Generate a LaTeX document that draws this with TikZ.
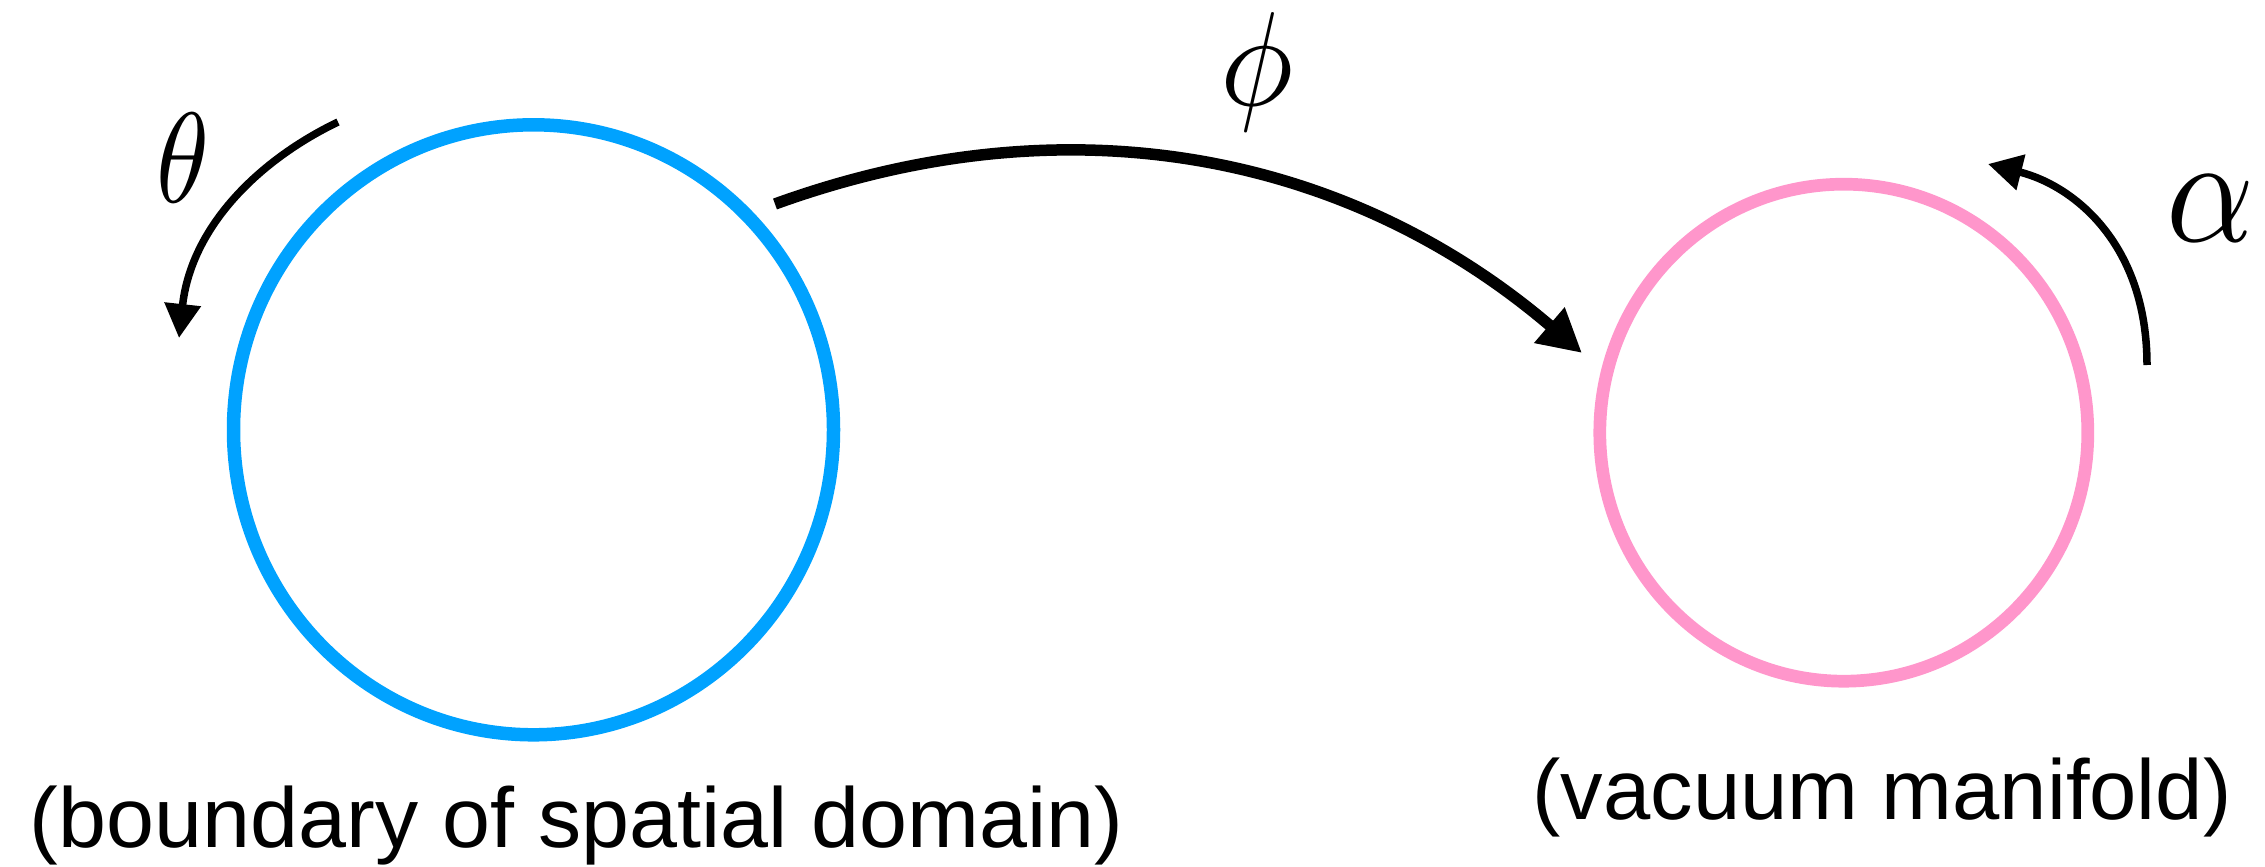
\documentclass[tikz,border=0pt]{standalone}
\usepackage{fontspec}
\usepackage{graphicx}
\setmainfont{Liberation Sans}
\usetikzlibrary{arrows.meta,shapes.geometric}
\definecolor{domblue}{RGB}{0,162,255}
\definecolor{vacpink}{RGB}{255,150,203}
\begin{document}
\begin{tikzpicture}[x=1pt,y=-1pt,
  ring/.style={draw, ellipse, inner sep=0pt, outer sep=0pt},
  smallarrow/.style={line width=7.5pt, -{Triangle[length=34pt,width=35pt]}},
  bigarrow/.style={line width=11.5pt, -{Triangle[length=43pt,width=44pt]}},
  sym/.style={inner sep=0pt, outer sep=0pt, anchor=center},
  caption/.style={inner sep=0pt, anchor=base, font=\fontsize{85}{100}\selectfont}]
\useasboundingbox (0,0) rectangle (2265,867);
% circles
\node[ring, domblue, line width=13.5pt, minimum width=600pt, minimum height=610pt] (dom) at (533.5,429.8) {};
\node[ring, vacpink, line width=12.7pt, minimum width=488pt, minimum height=497pt] (vac) at (1843.8,432.7) {};
% connector end points
\coordinate (thS) at (338,122);
\coordinate (thE) at (179,338);
\coordinate (phiS) at (775,204);
\coordinate (phiE) at (1582,353);
\coordinate (alS) at (2147,365);
\coordinate (alE) at (1988,164);
% arrows
\draw[smallarrow] (thS) .. controls (257,161) and (191,228) .. (thE);
\draw[bigarrow] (phiS) .. controls (1076,95) and (1354,158) .. (phiE);
\draw[smallarrow] (alS) .. controls (2147,245) and (2075,186) .. (alE);
% symbols
\node[sym] (theta) at (183.3,157.5) {\resizebox*{53pt}{89pt}{$\theta$}};
\node[sym] (phi) at (1257.5,72.5) {\resizebox*{73pt}{119pt}{$\phi$}};
\node[sym] (alpha) at (2211,208) {\resizebox*{88pt}{66pt}{$\alpha$}};
% captions
\node[caption] (domlabel) at (576.5,847) {\scalebox{1.015}[1]{(boundary of spatial domain)}};
\node[caption] (vaclabel) at (1882,819) {(vacuum manifold)};
\end{tikzpicture}
\end{document}
